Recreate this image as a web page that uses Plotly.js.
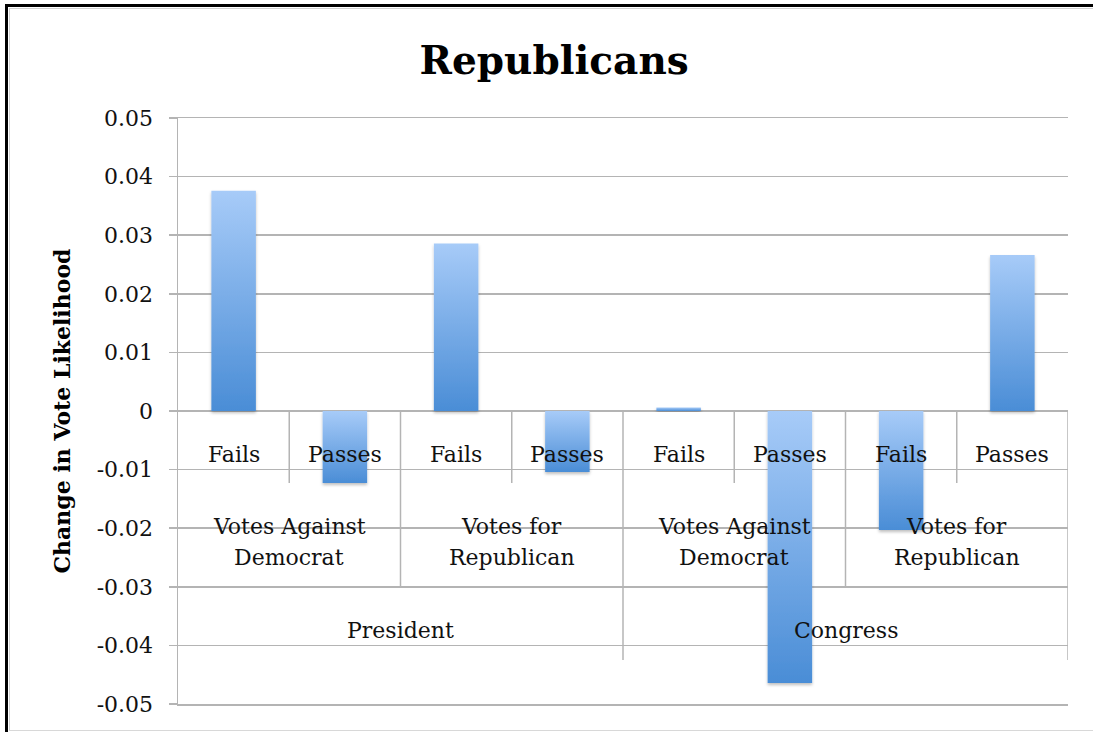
<!DOCTYPE html>
<html>
<head>
<meta charset="utf-8">
<script src="https://cdn.plot.ly/plotly-3.0.1.min.js"></script>
<style>
  html, body { margin: 0; padding: 0; background: #ffffff; overflow: hidden; width: 1093px; height: 732px; }
  #chart { position: absolute; left: 0; top: 0; width: 1093px; height: 732px; }
  #frameLeft {
    position: absolute; left: 5px; top: 4px; width: 3px; height: 728px;
    background: #000; pointer-events: none;
  }
  #frameTop {
    position: absolute; left: 5px; top: 4px; width: 1088px; height: 3px;
    background: #000; pointer-events: none;
  }
  #frameInnerLeft {
    position: absolute; left: 9px; top: 8px; width: 1px; height: 722px;
    background: #d0d0d0; pointer-events: none;
  }
  #frameInnerTop {
    position: absolute; left: 9px; top: 8px; width: 1084px; height: 1px;
    background: #d0d0d0; pointer-events: none;
  }
  #frameInnerBottom {
    position: absolute; left: 9px; top: 730px; width: 1084px; height: 1px;
    background: #d8d8d8; pointer-events: none;
  }
</style>
</head>
<body>
<div id="chart"></div>
<div id="frameLeft"></div>
<div id="frameTop"></div>
<div id="frameInnerLeft"></div>
<div id="frameInnerTop"></div>
<div id="frameInnerBottom"></div>
<script>
// Innermost category level: outcome of the vote
const outcomeLabels = ['Fails', 'Passes', 'Fails', 'Passes', 'Fails', 'Passes', 'Fails', 'Passes'];
// Middle level: vote type (each spans two outcomes)
const voteTypeLabels = ['Votes Against<br>Democrat', 'Votes for<br>Republican',
                        'Votes Against<br>Democrat', 'Votes for<br>Republican'];
// Outer level: office (each spans four outcomes)
const officeLabels = ['President', 'Congress'];
// Change in vote likelihood per outcome
const changeValues = [0.0376, -0.0123, 0.0286, -0.0104, 0.0006, -0.0464, -0.0203, 0.0266];
// Y axis ticks
const yTickVals = [0.05, 0.04, 0.03, 0.02, 0.01, 0, -0.01, -0.02, -0.03, -0.04, -0.05];
const yTickText = ['0.05', '0.04', '0.03', '0.02', '0.01', '0', '-0.01', '-0.02', '-0.03', '-0.04', '-0.05'];

const GRID = '#b4b4b4';
const SERIF = '"DejaVu Serif", "Liberation Serif", serif';
const LABEL_FONT = { family: SERIF, size: 22, color: '#111' };
const xIdx = outcomeLabels.map((_, i) => i);

const trace = {
  type: 'bar',
  x: xIdx,
  y: changeValues,
  width: 0.4,
  marker: { color: '#74a9e8', line: { width: 0 } },
  hoverinfo: 'skip',
  showlegend: false
};

// Multi-level category axis drawn at the zero line
const annotations = [];
const shapes = [];
const LINE = { color: GRID, width: 1.5 };

function addLabel(x, y, text) {
  annotations.push({
    x: x, y: y, xref: 'x', yref: 'y', text: text, showarrow: false,
    xanchor: 'center', yanchor: 'middle', font: LABEL_FONT
  });
}

outcomeLabels.forEach((lab, i) => addLabel(i, -0.0075, lab));

const perType = outcomeLabels.length / voteTypeLabels.length;
voteTypeLabels.forEach((lab, g) => {
  const cx = g * perType + (perType - 1) / 2;
  const lines = lab.split('<br>');
  const step = 0.0053;
  const top = -0.0224 + step * (lines.length - 1) / 2;
  lines.forEach((ln, k) => addLabel(cx, top - k * step, ln));
});

const perOffice = outcomeLabels.length / officeLabels.length;
officeLabels.forEach((lab, g) => addLabel(g * perOffice + (perOffice - 1) / 2, -0.0375, lab));

// Separator ticks between categories, longer for higher levels
for (let b = 0; b < outcomeLabels.length; b++) {
  const xb = b + 0.5;
  let depth;
  if ((b + 1) % perOffice === 0) depth = -0.0425;
  else if ((b + 1) % perType === 0) depth = -0.030;
  else depth = -0.0123;
  shapes.push({
    type: 'line', xref: 'x', yref: 'y', x0: xb, x1: xb, y0: 0, y1: depth,
    line: LINE, layer: 'below'
  });
}

const layout = {
  width: 1093,
  height: 732,
  paper_bgcolor: '#ffffff',
  plot_bgcolor: '#ffffff',
  margin: { l: 178, r: 25, t: 118, b: 28 },
  title: {
    text: '<b>Republicans</b>',
    x: 0.507, xanchor: 'center', xref: 'container',
    y: 0.917, yanchor: 'middle',
    font: { family: SERIF, size: 39, color: '#000' }
  },
  xaxis: {
    range: [-0.5, outcomeLabels.length - 0.5],
    showticklabels: false, showgrid: false, zeroline: false,
    showline: true, mirror: true, linecolor: GRID, linewidth: 1.5,
    ticks: '', fixedrange: true
  },
  yaxis: {
    range: [-0.05, 0.05],
    tickvals: yTickVals,
    ticktext: yTickText,
    ticks: 'outside', ticklen: 8, tickwidth: 1.5, tickcolor: GRID,
    showline: true, linecolor: GRID, linewidth: 1.5,
    showgrid: true, gridcolor: GRID, gridwidth: 1.5,
    zeroline: true, zerolinecolor: GRID, zerolinewidth: 1.5,
    tickfont: { family: SERIF, size: 22, color: '#111' },
    ticklabelstandoff: 11,
    title: {
      text: '<b>Change in Vote Likelihood</b>',
      font: { family: SERIF, size: 22, color: '#000' },
      standoff: 20
    },
    automargin: false,
    fixedrange: true
  },
  bargap: 0.6,
  annotations: annotations,
  shapes: shapes
};

Plotly.newPlot('chart', [trace], layout, { displayModeBar: false, staticPlot: true }).then(gd => {
  // Vertical light-to-dark fill on every bar, with a soft shadow underneath
  const svg = gd.querySelector('svg.main-svg');
  const NS = 'http://www.w3.org/2000/svg';
  let defs = svg.querySelector('defs');
  if (!defs) { defs = document.createElementNS(NS, 'defs'); svg.insertBefore(defs, svg.firstChild); }
  const grad = document.createElementNS(NS, 'linearGradient');
  grad.setAttribute('id', 'barFill');
  grad.setAttribute('x1', '0'); grad.setAttribute('y1', '0');
  grad.setAttribute('x2', '0'); grad.setAttribute('y2', '1');
  [['0', '#a7cbf8'], ['1', '#4a8dd6']].forEach(([o, c]) => {
    const s = document.createElementNS(NS, 'stop');
    s.setAttribute('offset', o); s.setAttribute('stop-color', c);
    grad.appendChild(s);
  });
  defs.appendChild(grad);
  const filt = document.createElementNS(NS, 'filter');
  filt.setAttribute('id', 'barShadow');
  filt.setAttribute('x', '-20%'); filt.setAttribute('y', '-5%');
  filt.setAttribute('width', '140%'); filt.setAttribute('height', '115%');
  const ds = document.createElementNS(NS, 'feDropShadow');
  ds.setAttribute('dx', '0'); ds.setAttribute('dy', '2');
  ds.setAttribute('stdDeviation', '1.5');
  ds.setAttribute('flood-color', '#000'); ds.setAttribute('flood-opacity', '0.25');
  filt.appendChild(ds);
  defs.appendChild(filt);
  gd.querySelectorAll('.barlayer .point path').forEach(p => {
    p.style.fill = 'url(#barFill)';
    p.setAttribute('filter', 'url(#barShadow)');
  });
});
</script>
</body>
</html>
